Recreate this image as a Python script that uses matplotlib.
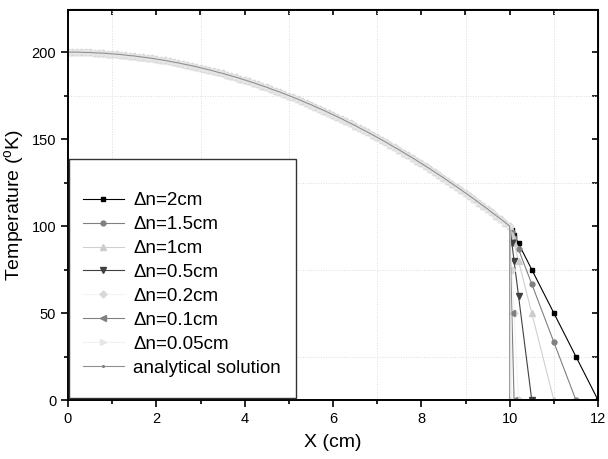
import numpy as np
import matplotlib.pyplot as plt
from matplotlib.patches import Rectangle
from matplotlib.ticker import MultipleLocator

plt.rcParams['font.family'] = ['Liberation Sans', 'DejaVu Sans']
plt.rcParams['mathtext.default'] = 'regular'

# temperature in the core region, 0-10 cm every 0.1 cm
x_core = np.linspace(0, 10, 101)
T_core = [200.0, 200.0, 200.0, 199.9, 199.8, 199.8, 199.6, 199.5, 199.4, 199.2,
          199.0, 198.8, 198.6, 198.3, 198.0, 197.8, 197.4, 197.1, 196.8, 196.4,
          196.0, 195.6, 195.2, 194.7, 194.2, 193.8, 193.2, 192.7, 192.2, 191.6,
          191.0, 190.4, 189.8, 189.1, 188.4, 187.8, 187.0, 186.3, 185.6, 184.8,
          184.0, 183.2, 182.4, 181.5, 180.6, 179.8, 178.8, 177.9, 177.0, 176.0,
          175.0, 174.0, 173.0, 171.9, 170.8, 169.8, 168.6, 167.5, 166.4, 165.2,
          164.0, 162.8, 161.6, 160.3, 159.0, 157.8, 156.4, 155.1, 153.8, 152.4,
          151.0, 149.6, 148.2, 146.7, 145.2, 143.8, 142.2, 140.7, 139.2, 137.6,
          136.0, 134.4, 132.8, 131.1, 129.4, 127.8, 126.0, 124.3, 122.6, 120.8,
          119.0, 117.2, 115.4, 113.5, 111.6, 109.8, 107.8, 105.9, 104.0, 102.0,
          100.0]

# outer layer for each mesh size
tail_x_2 = [10.05, 10.1, 10.2, 10.5, 11.0, 11.5, 12.0]
tail_T_2 = [97.5, 95.0, 90.0, 75.0, 50.0, 25.0, 0.0]
tail_x_15 = [10.05, 10.1, 10.2, 10.5, 11.0, 11.5]
tail_T_15 = [96.7, 93.3, 86.7, 66.7, 33.3, 0.0]
tail_x_1 = [10.05, 10.1, 10.2, 10.5, 11.0]
tail_T_1 = [95.0, 90.0, 80.0, 50.0, 0.0]
tail_x_05 = [10.05, 10.1, 10.2, 10.5]
tail_T_05 = [90.0, 80.0, 60.0, 0.0]
tail_x_02 = [10.05, 10.1, 10.2]
tail_T_02 = [75.0, 50.0, 0.0]
tail_x_01 = [10.05, 10.1]
tail_T_01 = [50.0, 0.0]
tail_x_005 = [10.05]
tail_T_005 = [0.0]
tail_x_an = [10.0]
tail_T_an = [0.0]

labels = ['\u0394n=2cm', '\u0394n=1.5cm', '\u0394n=1cm', '\u0394n=0.5cm',
          '\u0394n=0.2cm', '\u0394n=0.1cm', '\u0394n=0.05cm', 'analytical solution']
tails = [(tail_x_2, tail_T_2), (tail_x_15, tail_T_15), (tail_x_1, tail_T_1),
         (tail_x_05, tail_T_05), (tail_x_02, tail_T_02), (tail_x_01, tail_T_01),
         (tail_x_005, tail_T_005), (tail_x_an, tail_T_an)]

line_cols = ['#000000', '#808080', '#d0d0d0', '#404040', '#f4f4f4', '#808080', '#f0f0f0', '#909090']
mark_cols = ['#000000', '#808080', '#cccccc', '#404040', '#d8d8d8', '#808080', '#e6e6e6', '#808080']
markers = ['s', 'o', '^', 'v', 'D', '<', '>', '.']
msizes = [3, 3.5, 4, 4, 3.5, 4, 4, 2.5]
# light series carry symbols along the whole curve, dark ones only in the outer layer
full_marks = [False, False, True, False, True, False, True, False]

fig = plt.figure(figsize=(6.08, 4.59), dpi=100)
ax = fig.add_axes([68/608, 59/459, 530/608, 390.5/459])

n_core = len(T_core)
for lab, (tx, tT), lc, mc, mk, ms, full in zip(labels, tails, line_cols, mark_cols,
                                               markers, msizes, full_marks):
    xs = np.concatenate([x_core, tx])
    Ts = np.concatenate([T_core, tT])
    every = None if full else list(range(n_core, len(xs)))
    ax.plot(xs, Ts, color=lc, lw=0.8, marker=mk, ms=ms, mfc=mc, mec=mc,
            markevery=every, label=lab)

ax.set_xlim(0, 12)
ax.set_ylim(0, 224.5)
ax.xaxis.set_major_locator(MultipleLocator(2))
ax.xaxis.set_minor_locator(MultipleLocator(1))
ax.yaxis.set_major_locator(MultipleLocator(50))
ax.yaxis.set_minor_locator(MultipleLocator(25))
ax.grid(which='minor', ls=':', color='#dcdcdc', lw=0.7)
ax.grid(which='major', visible=False)
ax.tick_params(which='major', direction='out', length=5, width=1.2, labelsize=10.5)
ax.tick_params(which='minor', direction='out', length=3, width=1.2)
for sp in ax.spines.values():
    sp.set_linewidth(1.4)

# mirrored ticks on top and right, pointing inward
top = ax.secondary_xaxis('top')
top.xaxis.set_major_locator(MultipleLocator(1))
top.tick_params(direction='in', length=4, width=1.2, labeltop=False)
right = ax.secondary_yaxis('right')
right.yaxis.set_major_locator(MultipleLocator(25))
right.tick_params(direction='in', length=4, width=1.2, labelright=False)

ax.set_xlabel('X (cm)', fontsize=14, labelpad=6)
ax.set_ylabel('Temperature ($^{o}$K)', fontsize=14, labelpad=4)

# legend frame
ax.add_patch(Rectangle((0.002, 0.005), 0.428, 0.613, transform=ax.transAxes,
                       facecolor='white', edgecolor='#333333', lw=1.0, zorder=3))
leg = ax.legend(loc='upper left', bbox_to_anchor=(0.028, 0.532), frameon=False,
                fontsize=13.5, handlelength=2.2, handletextpad=0.5,
                labelspacing=0.36, borderpad=0, borderaxespad=0)
leg.set_zorder(4)

fig.savefig('out.png', dpi=100)
